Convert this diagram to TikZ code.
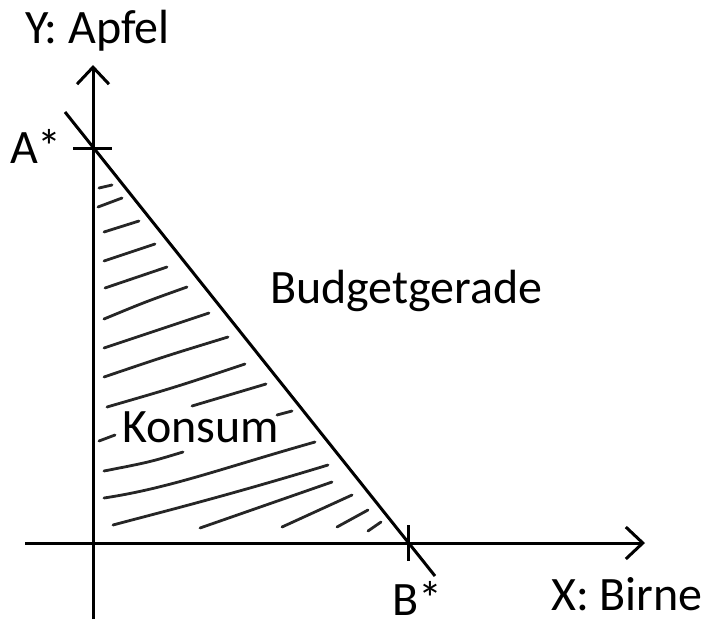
\documentclass[tikz,border=0pt]{standalone}
\usepackage{fontspec}
\setmainfont{Carlito}
\usetikzlibrary{arrows.meta}
\begin{document}
\begin{tikzpicture}[x=1pt,y=-1pt,
  axis/.style={line width=3pt,black},
  axisarrow/.style={axis,-{Straight Barb[length=17pt,width=32pt,line width=3pt]}},
  budget/.style={line width=3pt,black},
  tick/.style={line width=3pt,black},
  hatch/.style={line width=2.8pt,black!85,line cap=round},
  lbl/.style={font=\fontsize{48}{52}\selectfont,inner sep=0pt,anchor=base west}]
\useasboundingbox (0,0) rectangle (706,619);
% axes
\coordinate (ybot) at (93,619);
\coordinate (ytop) at (93,65);
\coordinate (xleft) at (25,543);
\coordinate (xright) at (645,543);
\draw[axisarrow] (ybot) -- (ytop);
\draw[axisarrow] (xleft) -- (xright);
% budget line
\coordinate (bstart) at (65,112);
\coordinate (bend) at (435,576);
\draw[budget] (bstart) -- (bend);
% ticks
\coordinate (ta1) at (73,148); \coordinate (ta2) at (112,148);
\coordinate (tb1) at (408,525); \coordinate (tb2) at (408,561);
\draw[tick] (ta1) -- (ta2);
\draw[tick] (tb1) -- (tb2);
% hatching
\draw[hatch] (99,188) -- (112,185);
\draw[hatch] (98,207) .. controls (110,203) .. (122,198);
\draw[hatch] (104,232) .. controls (122,226) .. (139,221);
\draw[hatch] (104,261) .. controls (130,252) .. (155,244);
\draw[hatch] (105,288) .. controls (136,277) .. (167,267);
\draw[hatch] (104,319) .. controls (145,302) .. (187,287);
\draw[hatch] (104,348) .. controls (156,330) .. (209,313);
\draw[hatch] (104,377) .. controls (166,356) .. (228,337);
\draw[hatch] (107,407) .. controls (176,387) .. (245,364);
\draw[hatch] (192,406) .. controls (229,395) .. (266,384);
\draw[hatch] (99,441) -- (115,435);
\draw[hatch] (277,415) -- (292,411);
\draw[hatch] (104,471) .. controls (150,462) .. (183,452);
\draw[hatch] (104,498) .. controls (170,488) and (223,468) .. (315,442);
\draw[hatch] (113,525) .. controls (150,515) and (223,497) .. (328,465);
\draw[hatch] (200,528) .. controls (266,505) .. (332,482);
\draw[hatch] (282,527) .. controls (317,511) .. (352,495);
\draw[hatch] (337,527) -- (368,510);
\draw[hatch] (368,531) -- (381,522);
% labels
\node[lbl] (ylabel) at (25,43) {Y: Apfel};
\node[lbl] (alabel) at (10,163) {A*};
\node[lbl] (budgetlabel) at (270,303) {Budgetgerade};
\node[lbl] (konsumlabel) at (122,442) {Konsum};
\node[lbl] (blabel) at (392,615) {B*};
\node[lbl] (xlabel) at (551,610) {X: Birne};
\end{tikzpicture}
\end{document}
